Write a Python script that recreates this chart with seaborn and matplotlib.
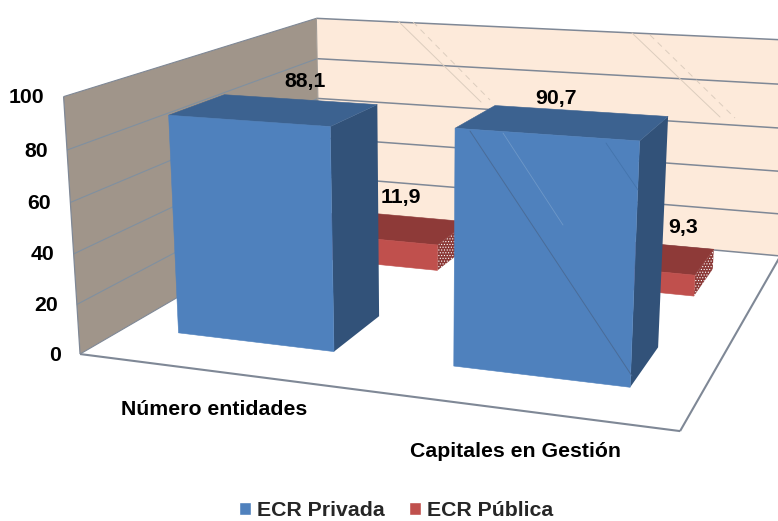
import numpy as np
import matplotlib
matplotlib.use("Agg")
import matplotlib.pyplot as plt
from matplotlib.patches import Patch
import seaborn as sns

# Chart values
categories = ["Número entidades", "Capitales en Gestión"]
series_names = ["ECR Privada", "ECR Pública"]
ecr_privada = [88.1, 90.7]
ecr_publica = [11.9, 9.3]
value_labels_privada = ["88,1", "90,7"]
value_labels_publica = ["11,9", "9,3"]
axis_ticks = [0, 20, 40, 60, 80, 100]

sns.set_theme(style="white")
plt.rcParams["font.family"] = ["Liberation Sans", "DejaVu Sans"]
plt.rcParams["hatch.linewidth"] = 0.5
BLUE, RED = sns.color_palette(["#4F81BD", "#C0504D"])
BLUE_TOP, BLUE_SIDE = "#3C6290", "#325279"
RED_TOP, RED_SIDE = "#8E3A38", "#8A3836"
WALL_SIDE, WALL_BACK = "#A0958A", "#FDEADA"
GRID = "#7F8896"

# Camera: world (x, depth, value) -> pixel, solved from the box corners
box_world = [(0, 0, 0), (1, 0, 0), (1, 1, 0), (0, 1, 0), (0, 0, 100), (0, 1, 100), (1, 1, 100)]
box_px = [(77, 350), (681, 433), (779, 254), (323, 218), (66, 99), (314, 16), (795, 41)]
rows = []
for (wx, wy, wz), (px, py) in zip(box_world, box_px):
    w = [wx, wy, wz, 1]
    rows.append(w + [0, 0, 0, 0] + [-px * t for t in w])
    rows.append([0, 0, 0, 0] + w + [-py * t for t in w])
CAM = np.linalg.svd(np.array(rows, float))[2][-1].reshape(3, 4)


def project(x, y, z):
    q = CAM @ np.array([x, y, z, 1.0])
    return q[0] / q[2], q[1] / q[2]


def face(ax, corners, **kw):
    pts = [project(*c) for c in corners]
    ax.fill(*zip(*pts), **kw)


def edge(ax, a, b, color=GRID, lw=1.1, **kw):
    pa, pb = project(*a), project(*b)
    ax.plot([pa[0], pb[0]], [pa[1], pb[1]], color=color, lw=lw, solid_capstyle="butt", zorder=2, **kw)


def bar3d(ax, x0, x1, y0, y1, h, front, top, side, hatch=None):
    face(ax, [(x1, y0, 0), (x1, y1, 0), (x1, y1, h), (x1, y0, h)],
         facecolor=side, edgecolor="white" if hatch else side, hatch=hatch, lw=0, zorder=3)
    face(ax, [(x0, y0, h), (x1, y0, h), (x1, y1, h), (x0, y1, h)],
         facecolor=top, edgecolor=top, lw=0.4, zorder=3)
    face(ax, [(x0, y0, 0), (x1, y0, 0), (x1, y0, h), (x0, y0, h)],
         facecolor=front, edgecolor=front, lw=0.4, zorder=3)


fig = plt.figure(figsize=(7.78, 5.21), dpi=100)
ax = fig.add_axes([0, 0, 1, 1])
ax.set_xlim(0, 778)
ax.set_ylim(521, 0)
ax.axis("off")

# Walls and floor
face(ax, [(0, 0, 0), (0, 1, 0), (0, 1, 100), (0, 0, 100)], facecolor=WALL_SIDE, lw=0, zorder=1)
face(ax, [(0, 1, 0), (1, 1, 0), (1, 1, 100), (0, 1, 100)], facecolor=WALL_BACK, lw=0, zorder=1)
for z in axis_ticks:
    edge(ax, (0, 0, z), (0, 1, z), color="#8090A0" if 0 < z < 100 else GRID, lw=0.8)
    edge(ax, (0, 1, z), (1, 1, z))
edge(ax, (0, 0, 0), (0, 0, 100), lw=0.9)
edge(ax, (0, 1, 0), (0, 1, 100), color="#A09A94", lw=0.8)
edge(ax, (0, 0, 0), (1, 0, 0), lw=1.5)
edge(ax, (1, 0, 0), (1, 1, 0), lw=1.5)

# Faint rendering streaks across the back wall
for (a, b, style) in [((398, 21), (481, 102), "-"), ((413, 22), (490, 100), (0, (6, 5))),
                      ((632, 33), (720, 117), "-"), ((650, 35), (735, 118), (0, (6, 5)))]:
    ax.plot([a[0], b[0]], [a[1], b[1]], color="#DCCDBE", lw=0.7, ls=style, zorder=2)

# Bars: back row first so the front row overlaps it
half_w = 0.145
rows_depth = [(0.155, 0.36), (0.67, 0.86)]
centers = [(i + 0.5) / len(categories) - 0.0045 for i in range(len(categories))]
for c, v in zip(centers, ecr_publica):
    bar3d(ax, c - half_w, c + half_w, *rows_depth[1], v, RED, RED_TOP, RED_SIDE, hatch="......")
for c, v in zip(centers, ecr_privada):
    bar3d(ax, c - half_w, c + half_w, *rows_depth[0], v, BLUE, BLUE_TOP, BLUE_SIDE)

# Streaks on the second front face
for (a, b, col, lw) in [((470, 131), (632, 376), "#4A6C98", 0.7), ((503, 133), (563, 225), "#6E98C8", 0.6),
                        ((606, 143), (638, 190), "#4474AC", 0.6)]:
    ax.plot([a[0], b[0]], [a[1], b[1]], color=col, lw=lw, zorder=4)

FS = 15.3
# Value labels, offset in pixels from each bar's top centre
mid = lambda r: sum(r) / 2
offsets_privada = [(30, -28), (-7, -24)]
offsets_publica = [(16, -29), (54, -27)]
for c, v, t, off in zip(centers, ecr_privada, value_labels_privada, offsets_privada):
    x, y = project(c, mid(rows_depth[0]), v)
    ax.text(x + off[0], y + off[1], t, ha="center", va="center", fontsize=FS, fontweight="bold", color="black", zorder=10)
for c, v, t, off in zip(centers, ecr_publica, value_labels_publica, offsets_publica):
    x, y = project(c, mid(rows_depth[1]), v)
    ax.text(x + off[0], y + off[1], t, ha="center", va="center", fontsize=FS, fontweight="bold", color="black", zorder=10)

# Value axis labels along the front-left edge
for z in axis_ticks:
    x, y = project(0, 0, z)
    ax.text(x - 19, y + 1, str(z), ha="right", va="center", fontsize=FS, fontweight="bold", color="black", zorder=10)

# Category labels below the floor
category_offsets = [(1, 38), (4, 42)]
for c, name, off in zip(centers, categories, category_offsets):
    x, y = project(c, 0, 0)
    ax.text(x + off[0], y + off[1], name, ha="center", va="center",
            fontsize=FS, fontweight="bold", color="black", zorder=10)

handles = [Patch(facecolor=BLUE, label=series_names[0]), Patch(facecolor=RED, label=series_names[1])]
ax.legend(handles=handles, loc="lower center", bbox_to_anchor=(396 / 778, -0.026), ncol=2, frameon=False,
          prop={"size": FS, "weight": "bold"}, handlelength=0.56, handleheight=0.56,
          handletextpad=0.27, columnspacing=1.15, borderpad=0.2)

fig.savefig("out.png", dpi=100, facecolor="white")
